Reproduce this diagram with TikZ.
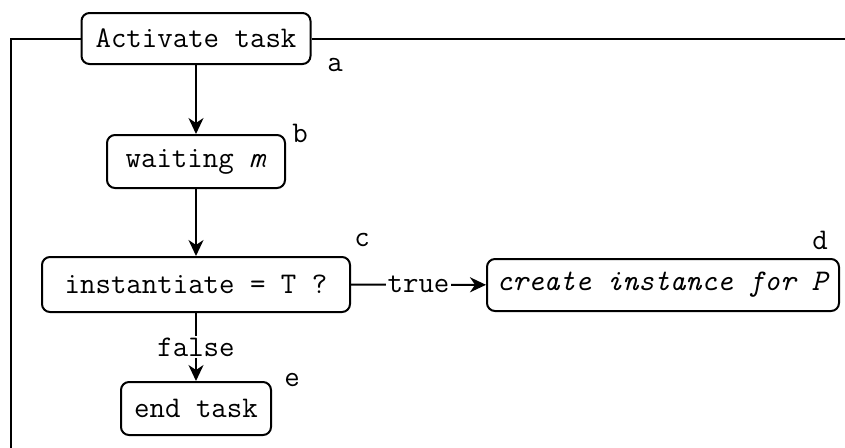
\documentclass[tikz,border=0pt]{standalone}
\usepackage{fontspec}
\usetikzlibrary{arrows.meta}
\begin{document}
\begin{tikzpicture}[x=0.5pt,y=-0.5pt,
  box/.style={draw,line width=1pt,rounded corners=4pt,inner sep=0pt,anchor=center},
  conn/.style={line width=1pt},
  arr/.style={conn,-{Stealth[length=8pt,width=7.5pt,inset=2.5pt]}},
  lbl/.style={inner sep=0pt,anchor=center},
  lab/.style={fill=white,inner sep=1pt},
  every node/.style={font=\ttfamily\fontsize{15}{17}\selectfont}]
\useasboundingbox (0,0) rectangle (845,447);
\node[box,minimum width=114.5pt,minimum height=25.5pt] (a) at (196,38.5) {Activate task};
\node[box,minimum width=89pt,minimum height=26.5pt] (b) at (196,161.5) {waiting \textit{m}};
\node[box,minimum width=154pt,minimum height=27.5pt] (c) at (196,284.5) {instantiate = T ?};
\node[box,minimum width=176pt,minimum height=26pt] (d) at (663,285) {\textit{create instance for P}};
\node[box,minimum width=75pt,minimum height=26.5pt] (e) at (196,408.5) {end task};
\node[lbl] (la) at (335,65) {a};
\node[lbl] (lb) at (300,133) {b};
\node[lbl] (lc) at (362,240) {c};
\node[lbl] (ld) at (820,240) {d};
\node[lbl] (le) at (292,380) {e};
\coordinate (fr) at (846,38.5);
\coordinate (fbl) at (11,448);
\draw[conn] (a.east) -- (fr);
\draw[conn] (a.west) -| (fbl);
\draw[arr] (a) -- (b);
\draw[arr] (b) -- (c);
\draw[arr] (c) -- node[lab] {true} (d);
\draw[arr] (c) -- node[lab] {false} (e);
\end{tikzpicture}
\end{document}
